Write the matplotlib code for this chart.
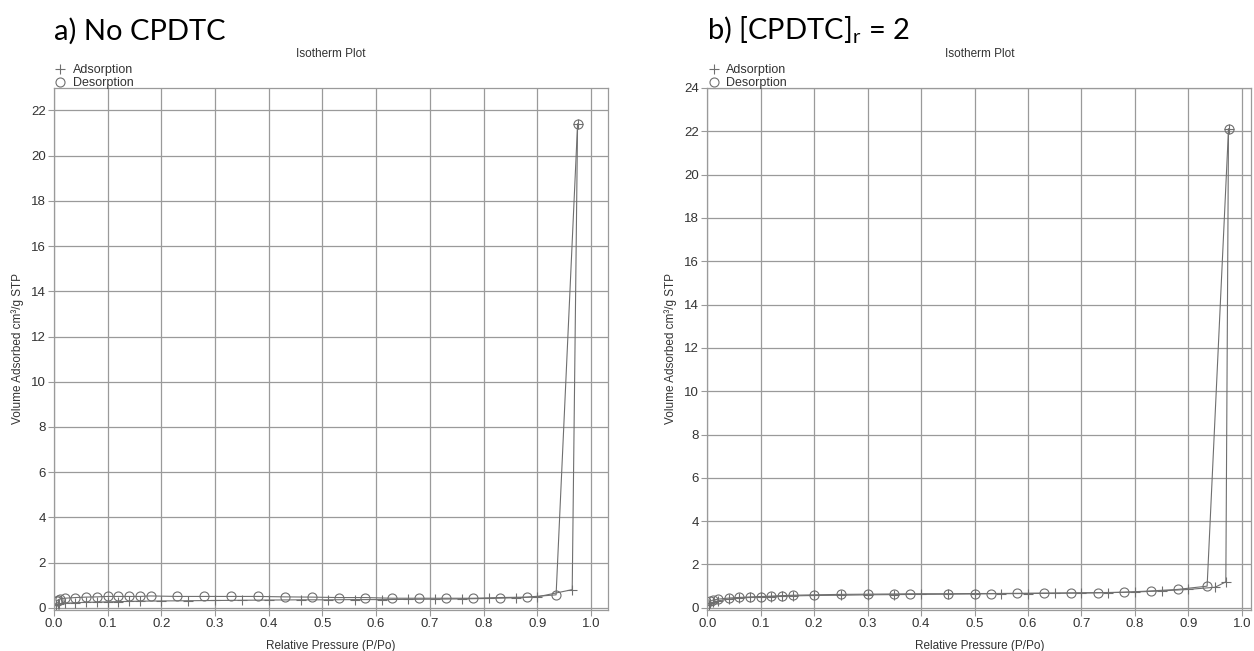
import numpy as np
import matplotlib.pyplot as plt
from matplotlib.lines import Line2D

plt.rcParams['font.family'] = ['Liberation Sans', 'DejaVu Sans']
plt.rcParams['mathtext.default'] = 'regular'

# a) No CPDTC
ads_a_x = [0.003, 0.007, 0.01, 0.02, 0.04, 0.06, 0.08, 0.10, 0.12, 0.14, 0.16, 0.20,
           0.25, 0.30, 0.35, 0.40, 0.46, 0.51, 0.56, 0.61, 0.66, 0.71, 0.76, 0.81,
           0.86, 0.90, 0.965, 0.975]
ads_a_y = [0.10, 0.15, 0.18, 0.20, 0.22, 0.24, 0.25, 0.26, 0.27, 0.28, 0.29, 0.30,
           0.31, 0.32, 0.33, 0.34, 0.35, 0.35, 0.36, 0.36, 0.37, 0.38, 0.39, 0.41,
           0.44, 0.48, 0.80, 21.4]
des_a_x = [0.975, 0.935, 0.88, 0.83, 0.78, 0.73, 0.68, 0.63, 0.58, 0.53, 0.48, 0.43,
           0.38, 0.33, 0.28, 0.23, 0.18, 0.16, 0.14, 0.12, 0.10, 0.08, 0.06, 0.04,
           0.02, 0.012, 0.008, 0.005]
des_a_y = [21.4, 0.57, 0.47, 0.45, 0.42, 0.42, 0.42, 0.42, 0.45, 0.45, 0.47, 0.48,
           0.50, 0.50, 0.50, 0.50, 0.52, 0.50, 0.50, 0.50, 0.50, 0.48, 0.47, 0.45,
           0.42, 0.40, 0.35, 0.30]

# b) [CPDTC]r = 2
ads_b_x = [0.003, 0.006, 0.01, 0.02, 0.04, 0.06, 0.08, 0.10, 0.12, 0.14, 0.16, 0.20,
           0.25, 0.30, 0.35, 0.40, 0.45, 0.50, 0.55, 0.60, 0.65, 0.70, 0.75, 0.80,
           0.85, 0.90, 0.95, 0.97, 0.975]
ads_b_y = [0.15, 0.20, 0.25, 0.32, 0.40, 0.45, 0.48, 0.50, 0.52, 0.54, 0.55, 0.57,
           0.58, 0.60, 0.61, 0.62, 0.63, 0.64, 0.65, 0.66, 0.67, 0.68, 0.70, 0.73,
           0.78, 0.85, 0.95, 1.20, 22.1]
des_b_x = [0.975, 0.935, 0.88, 0.83, 0.78, 0.73, 0.68, 0.63, 0.58, 0.53, 0.50, 0.45,
           0.38, 0.35, 0.30, 0.25, 0.20, 0.16, 0.14, 0.12, 0.10, 0.08, 0.06, 0.04,
           0.02, 0.01, 0.005]
des_b_y = [22.1, 1.00, 0.85, 0.78, 0.72, 0.70, 0.69, 0.68, 0.67, 0.66, 0.66, 0.65,
           0.65, 0.64, 0.63, 0.62, 0.60, 0.58, 0.56, 0.54, 0.52, 0.50, 0.48, 0.45,
           0.40, 0.35, 0.30]

x_ticks = np.arange(0, 1.01, 0.1)

line_col = '#6f6f6f'
grid_col = '#9a9a9a'
text_col = '#333333'


def draw_panel(ax, ads_x, ads_y, des_x, des_y, y_top, xmax, panel_label):

	ax.plot(ads_x, ads_y, color = line_col, lw = 0.8, marker = '+',
			ms = 7, mew = 0.8, label = 'Adsorption')
	ax.plot(des_x, des_y, color = line_col, lw = 0.8, marker = 'o',
			ms = 6.5, mew = 0.8, mfc = 'none', label = 'Desorption')

	ax.set_xlim(0, xmax)
	ax.set_ylim(-0.1, y_top)
	ax.set_xticks(x_ticks)
	ax.set_xticklabels([f'{t:.1f}' for t in x_ticks])
	ax.set_yticks(np.arange(0, y_top + 0.1, 2))

	ax.grid(True, color = grid_col, lw = 0.9)
	ax.set_axisbelow(True)
	for sp in ax.spines.values():
		sp.set_color(grid_col)
		sp.set_linewidth(0.9)
	ax.tick_params(colors = grid_col, labelcolor = text_col, labelsize = 9.5,
				   length = 4, width = 0.8, pad = 2)

	ax.set_xlabel('Relative Pressure (P/Po)', fontsize = 8.5, color = text_col, labelpad = 7)
	ax.set_ylabel('Volume Adsorbed cm³/g STP', fontsize = 8.5, color = text_col, labelpad = 5)
	ax.set_title('Isotherm Plot', fontsize = 8.5, color = text_col, pad = 22)

	handles = [Line2D([], [], ls = 'none', marker = '+', ms = 7, mew = 0.8, color = line_col),
			   Line2D([], [], ls = 'none', marker = 'o', ms = 6.5, mew = 0.8,
					  mfc = 'none', color = line_col)]
	leg = ax.legend(handles, ['Adsorption', 'Desorption'], loc = 'lower left',
					bbox_to_anchor = (0.0, 0.997), frameon = False, fontsize = 9,
					handlelength = 1.0, handletextpad = 0.5, labelspacing = 0.12,
					borderpad = 0, borderaxespad = 0)
	for t in leg.get_texts():
		t.set_color(text_col)

	ax.text(0.0, 1.082, panel_label, transform = ax.transAxes, fontsize = 21,
			family = ['Lato', 'DejaVu Sans'], ha = 'left', va = 'bottom')


fig = plt.figure(figsize = (12.54, 6.51), dpi = 100)

ax_a = fig.add_axes([0.043, 0.063, 0.442, 0.802])
ax_b = fig.add_axes([0.564, 0.063, 0.434, 0.802])

draw_panel(ax_a, ads_a_x, ads_a_y, des_a_x, des_a_y, 23, 1.032, 'a) No CPDTC')
draw_panel(ax_b, ads_b_x, ads_b_y, des_b_x, des_b_y, 24, 1.018, r'b) [CPDTC]$_{r}$ = 2')

fig.savefig('out.png', dpi = 100)
